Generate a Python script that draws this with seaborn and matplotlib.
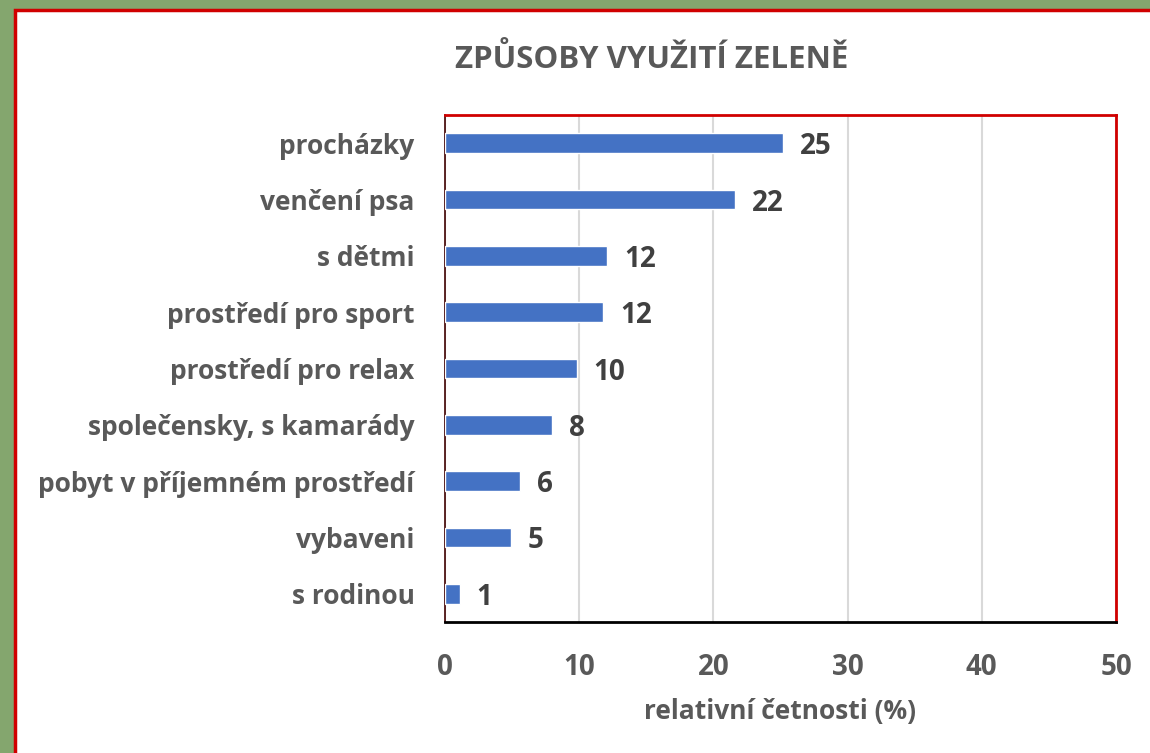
# Způsoby využití zeleně - horizontální sloupcový graf
import seaborn as sns
import matplotlib.pyplot as plt
import matplotlib.patches as mpatches
import pandas as pd

categories = ["procházky", "venčení psa", "s dětmi", "prostředí pro sport",
              "prostředí pro relax", "společensky, s kamarády",
              "pobyt v příjemném prostředí", "vybaveni", "s rodinou"]
values = [25.2, 21.6, 12.1, 11.8, 9.8, 8.0, 5.6, 4.9, 1.1]
value_labels = ["25", "22", "12", "12", "10", "8", "6", "5", "1"]
x_ticks = [0, 10, 20, 30, 40, 50]

df = pd.DataFrame({"kategorie": categories, "cetnost": values})

sns.set_style("white")
plt.rcParams['font.family'] = ['Open Sans', 'DejaVu Sans']

fig = plt.figure(figsize=(11.5, 7.53), dpi=100, facecolor="#84A66E")

# white chart panel with red border
panel = mpatches.Rectangle((15 / 1150, -0.05), 1.2, 1 - 10 / 753 + 0.05,
                           transform=fig.transFigure, facecolor="white",
                           edgecolor="#D00000", linewidth=2.5, zorder=-10)
fig.patches.append(panel)

ax = fig.add_axes([445 / 1150, 1 - 622 / 753, (1116 - 445) / 1150, (622 - 115) / 753])
ax.set_zorder(5)
ax.set_facecolor("white")

sns.barplot(data=df, x="cetnost", y="kategorie", color="#4472C4",
            saturation=1, width=0.35, ax=ax, zorder=3)

for t in ax.bar_label(ax.containers[0], labels=value_labels, padding=12,
                      fontsize=20, fontweight="bold", color="#404040"):
    t.set_va("center_baseline")

ax.set_xlim(0, 50)
ax.set_xticks(x_ticks)
ax.grid(axis="x", color="#D9D9D9", linewidth=1.5, zorder=0)
ax.set_axisbelow(True)

ax.tick_params(axis="both", length=0)
ax.tick_params(axis="x", pad=22, labelsize=20, labelcolor="#595959")
ax.tick_params(axis="y", pad=22, labelsize=19, labelcolor="#595959")
for lab in ax.get_xticklabels() + ax.get_yticklabels():
    lab.set_fontweight("bold")

ax.set_ylabel("")
ax.set_xlabel("relativní četnosti (%)", fontsize=19, fontweight="bold",
              color="#595959", labelpad=12)

ax.spines["top"].set_color("#D00000")
ax.spines["right"].set_color("#D00000")
ax.spines["bottom"].set_color("black")
ax.spines["left"].set_color("#400000")
for s in ax.spines.values():
    s.set_linewidth(2)
ax.spines["left"].set_linewidth(1.2)

fig.text(652 / 1150, 1 - 60 / 753, "ZPŮSOBY VYUŽITÍ ZELENĚ", ha="center",
         va="center", fontsize=22.5, fontweight="bold", color="#595959")

fig.savefig("out.png", dpi=100, facecolor=fig.get_facecolor())
